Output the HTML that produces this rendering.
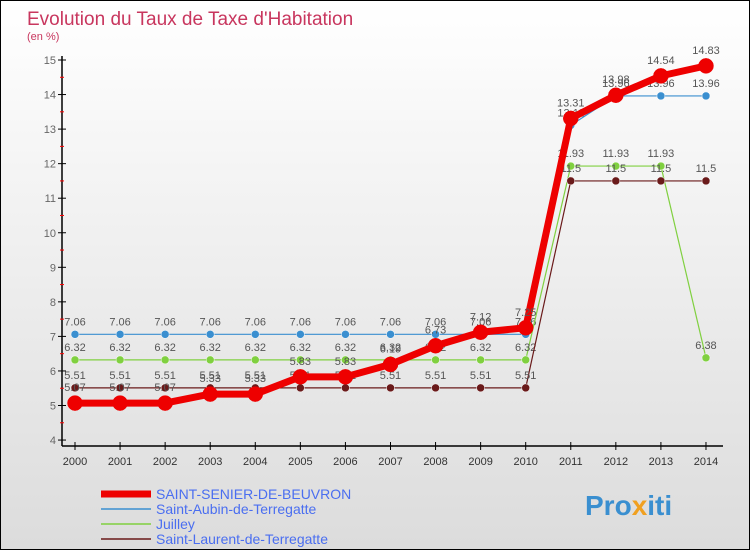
<!DOCTYPE html>
<html><head><meta charset="utf-8"><style>
body{margin:0}
#c{width:748px;height:548px;border:1px solid #000;background:linear-gradient(#fff,#dcdcdc);position:relative;font-family:"Liberation Sans",sans-serif;overflow:hidden}
</style></head><body>
<div id="c">
<svg id="s" width="748" height="548" xmlns="http://www.w3.org/2000/svg">
<text x="26" y="24" font-size="19" fill="#c8365e">Evolution du Taux de Taxe d'Habitation</text>
<text x="26" y="39" font-size="11" fill="#c8365e">(en %)</text>
<g id="g"></g>
<text x="584" y="514" font-size="28" font-weight="bold" fill="#3a8fd0">Pro<tspan fill="#f0a020">x</tspan>iti</text>
</svg></div>
<script>
const years=[2000,2001,2002,2003,2004,2005,2006,2007,2008,2009,2010,2011,2012,2013,2014];
const yTicks=[4,5,6,7,8,9,10,11,12,13,14,15];
const seriesNames=["SAINT-SENIER-DE-BEUVRON","Saint-Aubin-de-Terregatte","Juilley","Saint-Laurent-de-Terregatte"];
const mainVals=[5.07,5.07,5.07,5.33,5.33,5.83,5.83,6.19,6.73,7.12,7.25,13.31,13.98,14.54,14.83];
const aubinVals=[7.06,7.06,7.06,7.06,7.06,7.06,7.06,7.06,7.06,7.06,7.06,13.11,13.96,13.96,13.96];
const juilleyVals=[6.32,6.32,6.32,6.32,6.32,6.32,6.32,6.32,6.32,6.32,6.32,11.93,11.93,11.93,6.38];
const laurentVals=[5.51,5.51,5.51,5.51,5.51,5.51,5.51,5.51,5.51,5.51,5.51,11.5,11.5,11.5,11.5];
const X=i=>74+i*45.07, Y=v=>59+(15-v)*34.55;
const g=document.getElementById('g');const NS='http://www.w3.org/2000/svg';
function el(t,a){const e=document.createElementNS(NS,t);for(const k in a)e.setAttribute(k,a[k]);g.appendChild(e);return e;}
let ax=el('line',{x1:61,y1:55,x2:61,y2:445,stroke:'#000','stroke-width':1.5});

let bx=el('line',{x1:61,y1:445,x2:722,y2:445,stroke:'#000','stroke-width':1.5});

yTicks.forEach(v=>{el('line',{x1:57,x2:65,y1:Y(v),y2:Y(v),stroke:'#000'});
 if(v<15)el('line',{x1:59,x2:63,y1:Y(v+0.5),y2:Y(v+0.5),stroke:'red'});
 let t=el('text',{x:55,y:Y(v)+4,'font-size':11,fill:'#666','text-anchor':'end'});t.textContent=v;
 });
years.forEach((y,i)=>{el('line',{x1:X(i),x2:X(i),y1:441,y2:449,stroke:'#000'});
 let t=el('text',{x:X(i),y:464,'font-size':11,fill:'#333','text-anchor':'middle'});t.textContent=y;
 });
function series(vals,color,w,r,name,labelDy){
 let p=el('polyline',{points:vals.map((v,i)=>X(i)+','+Y(v)).join(' '),fill:'none',stroke:color,'stroke-width':w,'stroke-linejoin':'round'});
 
 vals.forEach((v,i)=>{let c=el('circle',{cx:X(i),cy:Y(v),r:r,fill:color,stroke:w>3?color:'#fff','stroke-width':0.5});
  
  let t=el('text',{x:X(i),y:Y(v)-labelDy,'font-size':11,fill:'#555','text-anchor':'middle'});t.textContent=v;
  });
}
series(aubinVals,'#3a8fd0',1.2,4,'saint-aubin',9);
series(juilleyVals,'#80d040',1.2,4,'juilley',9);
series(laurentVals,'#6a1a1a',1.2,4,'saint-laurent',9);
series(mainVals,'#ee0000',7,7.5,'saint-senier',12);
const lc=['#ee0000','#3a8fd0','#80d040','#6a1a1a'];
seriesNames.forEach((n,i)=>{const y=493+i*15;
 let l=el('line',{x1:100,x2:150,y1:y,y2:y,stroke:lc[i],'stroke-width':i==0?7:1.5});
 
 let t=el('text',{x:155,y:y+5,'font-size':14,fill:'#4a6ef0'});t.textContent=n;
 });
</script></body></html>
